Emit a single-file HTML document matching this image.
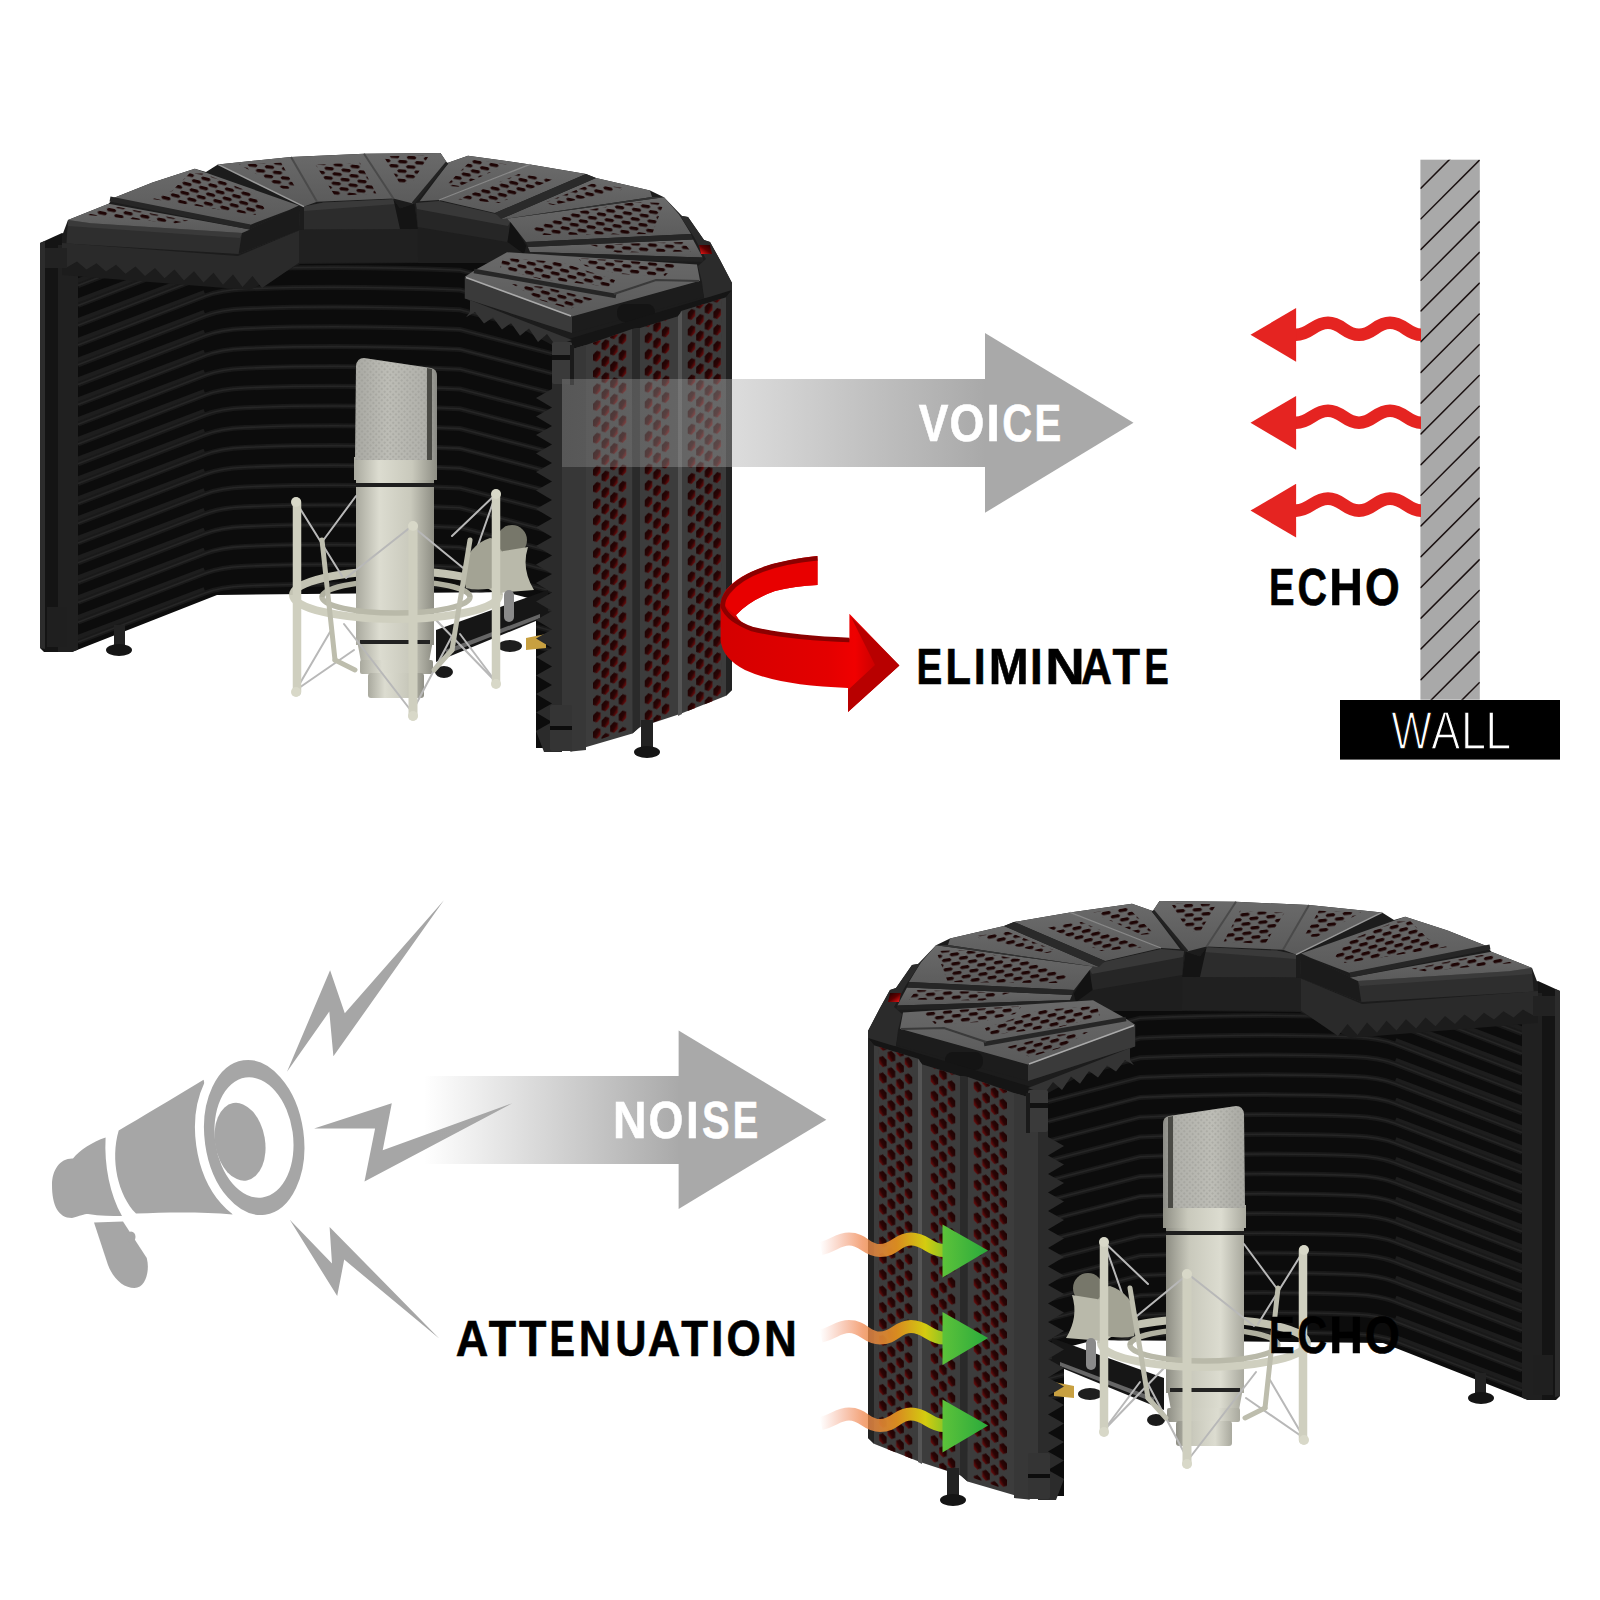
<!DOCTYPE html>
<html><head><meta charset="utf-8"><style>
html,body{margin:0;padding:0;background:#fff;}
svg{display:block;}
text{font-family:"Liberation Sans",sans-serif;}
</style></head><body>
<svg width="1600" height="1600" viewBox="0 0 1600 1600">
<defs>
<linearGradient id="holeg" x1="0" y1="0" x2="1" y2="1">
<stop offset="0" stop-color="#1a0202"/><stop offset="0.55" stop-color="#2a0404"/><stop offset="1" stop-color="#8c1010"/></linearGradient>
<pattern id="perf" width="17.2" height="16.4" patternUnits="userSpaceOnUse" patternTransform="translate(593,352) skewY(-19.5)">
<polygon points="3.8,0 7.6,2.6 7.6,8.4 3.8,11 0,8.4 0,2.6" fill="url(#holeg)"/>
<polygon points="12.4,8.2 16.2,10.8 16.2,16.6 12.4,19.2 8.6,16.6 8.6,10.8" fill="url(#holeg)"/>
<polygon points="12.4,-8.2 16.2,-5.6 16.2,0.2 12.4,2.8 8.6,0.2 8.6,-5.6" fill="url(#holeg)"/>
</pattern>
<pattern id="lidh" width="11" height="9" patternUnits="userSpaceOnUse" patternTransform="rotate(12)">
<ellipse cx="4" cy="3" rx="4.2" ry="2.4" fill="#2b0808"/>
<ellipse cx="9.5" cy="7.5" rx="4.2" ry="2.4" fill="#2b0808"/>
</pattern>
<pattern id="grille" width="4" height="4" patternUnits="userSpaceOnUse" patternTransform="rotate(45)"><rect width="4" height="4" fill="none"/><rect x="0" y="0" width="2" height="2" fill="#8f8f8a" opacity="0.35"/></pattern>
<linearGradient id="micg" x1="0" y1="0" x2="1" y2="0">
<stop offset="0" stop-color="#a9a99e"/><stop offset="0.3" stop-color="#dcdcd0"/><stop offset="0.7" stop-color="#c9c9bc"/><stop offset="1" stop-color="#8e8e84"/></linearGradient>
<linearGradient id="headg" x1="0" y1="0" x2="1" y2="0">
<stop offset="0" stop-color="#a8a8a2"/><stop offset="0.4" stop-color="#bdbdb6"/><stop offset="0.85" stop-color="#b0b0aa"/><stop offset="1" stop-color="#8a8a84"/></linearGradient>
<linearGradient id="voiceg" x1="562" y1="0" x2="985" y2="0" gradientUnits="userSpaceOnUse">
<stop offset="0" stop-color="#a9a9a9" stop-opacity="0.28"/><stop offset="0.42" stop-color="#a9a9a9" stop-opacity="0.42"/><stop offset="1" stop-color="#a9a9a9" stop-opacity="1"/></linearGradient>
<linearGradient id="noiseg" x1="424" y1="0" x2="680" y2="0" gradientUnits="userSpaceOnUse">
<stop offset="0" stop-color="#a9a9a9" stop-opacity="0"/><stop offset="1" stop-color="#a9a9a9" stop-opacity="1"/></linearGradient>
<linearGradient id="greeng" x1="820" y1="0" x2="990" y2="0" gradientUnits="userSpaceOnUse">
<stop offset="0" stop-color="#f08060" stop-opacity="0"/><stop offset="0.25" stop-color="#f08850" stop-opacity="0.75"/><stop offset="0.45" stop-color="#d88a20"/><stop offset="0.62" stop-color="#d4cc10"/><stop offset="0.8" stop-color="#60c030"/><stop offset="1" stop-color="#28aa38"/></linearGradient>
<linearGradient id="redind" x1="1" y1="0" x2="0" y2="1"><stop offset="0" stop-color="#200000"/><stop offset="0.5" stop-color="#600000"/><stop offset="1" stop-color="#ff1a1a"/></linearGradient>
<linearGradient id="ghead" x1="0" y1="0" x2="1" y2="0"><stop offset="0" stop-color="#5cc23a"/><stop offset="1" stop-color="#2aaa3c"/></linearGradient>
<linearGradient id="redfront" x1="720" y1="0" x2="900" y2="0" gradientUnits="userSpaceOnUse">
<stop offset="0" stop-color="#d40000"/><stop offset="0.6" stop-color="#e40000"/><stop offset="0.75" stop-color="#f00000"/><stop offset="1" stop-color="#a00000"/></linearGradient>
<linearGradient id="panelg" x1="0" y1="0" x2="1" y2="0">
<stop offset="0" stop-color="#383838"/><stop offset="1" stop-color="#444444"/></linearGradient>
<linearGradient id="lidtop" x1="0" y1="0" x2="0" y2="1">
<stop offset="0" stop-color="#6a6a6a"/><stop offset="1" stop-color="#5a5a5a"/></linearGradient>
<clipPath id="foamclip"><polygon points="58.0,245.0 560.0,245.0 560.0,748.0 536.0,748.0 536.0,600.0 505.0,592.0 217.0,595.0 72.0,652.0 58.0,652.0"/></clipPath>
<clipPath id="lc0"><polygon points="103.8,207.0 118.4,207.0 188.2,220.8 175.2,223.2 87.5,215.0"/></clipPath>
<pattern id="lp0" width="17" height="9.4" patternUnits="userSpaceOnUse" patternTransform="rotate(11)"><polygon points="0,1.7 1.7,0 8.3,0 10,1.7 8.3,3.4 1.7,3.4" fill="#1e0505"/><polygon points="8.5,6.4 10.2,4.7 16.8,4.7 18.5,6.4 16.8,8.1 10.2,8.1" fill="#1e0505"/><polygon points="-8.5,6.4 -6.8,4.7 -0.2,4.7 1.5,6.4 -0.2,8.1 -6.8,8.1" fill="#1e0505"/></pattern>
<clipPath id="lc1"><polygon points="189.9,172.9 204.5,173.7 254.9,194.0 264.6,208.6 254.9,215.0 152.5,198.9 172.0,190.8"/></clipPath>
<pattern id="lp1" width="17" height="9.4" patternUnits="userSpaceOnUse" patternTransform="rotate(14)"><polygon points="0,1.7 1.7,0 8.3,0 10,1.7 8.3,3.4 1.7,3.4" fill="#1e0505"/><polygon points="8.5,6.4 10.2,4.7 16.8,4.7 18.5,6.4 16.8,8.1 10.2,8.1" fill="#1e0505"/><polygon points="-8.5,6.4 -6.8,4.7 -0.2,4.7 1.5,6.4 -0.2,8.1 -6.8,8.1" fill="#1e0505"/></pattern>
<clipPath id="lc2"><polygon points="239.0,164.4 281.2,162.8 296.0,188.8 283.0,188.8"/></clipPath>
<pattern id="lp2" width="17" height="9.4" patternUnits="userSpaceOnUse" patternTransform="rotate(6)"><polygon points="0,1.7 1.7,0 8.3,0 10,1.7 8.3,3.4 1.7,3.4" fill="#1e0505"/><polygon points="8.5,6.4 10.2,4.7 16.8,4.7 18.5,6.4 16.8,8.1 10.2,8.1" fill="#1e0505"/><polygon points="-8.5,6.4 -6.8,4.7 -0.2,4.7 1.5,6.4 -0.2,8.1 -6.8,8.1" fill="#1e0505"/></pattern>
<clipPath id="lc3"><polygon points="315.4,164.4 360.0,162.8 376.3,193.6 334.9,196.0"/></clipPath>
<pattern id="lp3" width="17" height="9.4" patternUnits="userSpaceOnUse" patternTransform="rotate(6)"><polygon points="0,1.7 1.7,0 8.3,0 10,1.7 8.3,3.4 1.7,3.4" fill="#1e0505"/><polygon points="8.5,6.4 10.2,4.7 16.8,4.7 18.5,6.4 16.8,8.1 10.2,8.1" fill="#1e0505"/><polygon points="-8.5,6.4 -6.8,4.7 -0.2,4.7 1.5,6.4 -0.2,8.1 -6.8,8.1" fill="#1e0505"/></pattern>
<clipPath id="lc4"><polygon points="383.6,156.2 429.0,155.4 411.2,183.9 400.0,183.9"/></clipPath>
<pattern id="lp4" width="17" height="9.4" patternUnits="userSpaceOnUse" patternTransform="rotate(4)"><polygon points="0,1.7 1.7,0 8.3,0 10,1.7 8.3,3.4 1.7,3.4" fill="#1e0505"/><polygon points="8.5,6.4 10.2,4.7 16.8,4.7 18.5,6.4 16.8,8.1 10.2,8.1" fill="#1e0505"/><polygon points="-8.5,6.4 -6.8,4.7 -0.2,4.7 1.5,6.4 -0.2,8.1 -6.8,8.1" fill="#1e0505"/></pattern>
<clipPath id="lc5"><polygon points="472.0,159.5 507.8,164.4 458.4,186.7 445.8,185.7"/></clipPath>
<pattern id="lp5" width="17" height="9.4" patternUnits="userSpaceOnUse" patternTransform="rotate(10)"><polygon points="0,1.7 1.7,0 8.3,0 10,1.7 8.3,3.4 1.7,3.4" fill="#1e0505"/><polygon points="8.5,6.4 10.2,4.7 16.8,4.7 18.5,6.4 16.8,8.1 10.2,8.1" fill="#1e0505"/><polygon points="-8.5,6.4 -6.8,4.7 -0.2,4.7 1.5,6.4 -0.2,8.1 -6.8,8.1" fill="#1e0505"/></pattern>
<clipPath id="lc6"><polygon points="518.5,174.0 553.4,179.0 499.0,203.0 458.4,199.3"/></clipPath>
<pattern id="lp6" width="17" height="9.4" patternUnits="userSpaceOnUse" patternTransform="rotate(12)"><polygon points="0,1.7 1.7,0 8.3,0 10,1.7 8.3,3.4 1.7,3.4" fill="#1e0505"/><polygon points="8.5,6.4 10.2,4.7 16.8,4.7 18.5,6.4 16.8,8.1 10.2,8.1" fill="#1e0505"/><polygon points="-8.5,6.4 -6.8,4.7 -0.2,4.7 1.5,6.4 -0.2,8.1 -6.8,8.1" fill="#1e0505"/></pattern>
<clipPath id="lc7"><polygon points="592.0,183.8 628.0,188.6 553.4,205.0 543.7,203.0"/></clipPath>
<pattern id="lp7" width="17" height="9.4" patternUnits="userSpaceOnUse" patternTransform="rotate(12)"><polygon points="0,1.7 1.7,0 8.3,0 10,1.7 8.3,3.4 1.7,3.4" fill="#1e0505"/><polygon points="8.5,6.4 10.2,4.7 16.8,4.7 18.5,6.4 16.8,8.1 10.2,8.1" fill="#1e0505"/><polygon points="-8.5,6.4 -6.8,4.7 -0.2,4.7 1.5,6.4 -0.2,8.1 -6.8,8.1" fill="#1e0505"/></pattern>
<clipPath id="lc8"><polygon points="634.8,202.0 663.8,203.0 652.2,234.0 543.7,235.0 530.0,229.3 570.8,212.8"/></clipPath>
<pattern id="lp8" width="17" height="9.4" patternUnits="userSpaceOnUse" patternTransform="rotate(8)"><polygon points="0,1.7 1.7,0 8.3,0 10,1.7 8.3,3.4 1.7,3.4" fill="#1e0505"/><polygon points="8.5,6.4 10.2,4.7 16.8,4.7 18.5,6.4 16.8,8.1 10.2,8.1" fill="#1e0505"/><polygon points="-8.5,6.4 -6.8,4.7 -0.2,4.7 1.5,6.4 -0.2,8.1 -6.8,8.1" fill="#1e0505"/></pattern>
<clipPath id="lc9"><polygon points="590.0,244.8 683.2,241.9 691.0,251.6 617.3,252.5"/></clipPath>
<pattern id="lp9" width="17" height="9.4" patternUnits="userSpaceOnUse" patternTransform="rotate(4)"><polygon points="0,1.7 1.7,0 8.3,0 10,1.7 8.3,3.4 1.7,3.4" fill="#1e0505"/><polygon points="8.5,6.4 10.2,4.7 16.8,4.7 18.5,6.4 16.8,8.1 10.2,8.1" fill="#1e0505"/><polygon points="-8.5,6.4 -6.8,4.7 -0.2,4.7 1.5,6.4 -0.2,8.1 -6.8,8.1" fill="#1e0505"/></pattern>
<clipPath id="lc10"><polygon points="503.0,258.0 560.0,262.0 615.0,280.0 612.0,287.0 540.0,279.0 500.0,268.0"/></clipPath>
<pattern id="lp10" width="17" height="9.4" patternUnits="userSpaceOnUse" patternTransform="rotate(12)"><polygon points="0,1.7 1.7,0 8.3,0 10,1.7 8.3,3.4 1.7,3.4" fill="#1e0505"/><polygon points="8.5,6.4 10.2,4.7 16.8,4.7 18.5,6.4 16.8,8.1 10.2,8.1" fill="#1e0505"/><polygon points="-8.5,6.4 -6.8,4.7 -0.2,4.7 1.5,6.4 -0.2,8.1 -6.8,8.1" fill="#1e0505"/></pattern>
<clipPath id="lc11"><polygon points="578.0,258.0 677.0,264.0 665.0,276.0 620.0,274.0 585.0,266.0"/></clipPath>
<pattern id="lp11" width="17" height="9.4" patternUnits="userSpaceOnUse" patternTransform="rotate(6)"><polygon points="0,1.7 1.7,0 8.3,0 10,1.7 8.3,3.4 1.7,3.4" fill="#1e0505"/><polygon points="8.5,6.4 10.2,4.7 16.8,4.7 18.5,6.4 16.8,8.1 10.2,8.1" fill="#1e0505"/><polygon points="-8.5,6.4 -6.8,4.7 -0.2,4.7 1.5,6.4 -0.2,8.1 -6.8,8.1" fill="#1e0505"/></pattern>
<clipPath id="lc12"><polygon points="512.0,284.0 545.0,287.0 593.0,299.0 570.0,309.0 540.0,300.0"/></clipPath>
<pattern id="lp12" width="17" height="9.4" patternUnits="userSpaceOnUse" patternTransform="rotate(14)"><polygon points="0,1.7 1.7,0 8.3,0 10,1.7 8.3,3.4 1.7,3.4" fill="#1e0505"/><polygon points="8.5,6.4 10.2,4.7 16.8,4.7 18.5,6.4 16.8,8.1 10.2,8.1" fill="#1e0505"/><polygon points="-8.5,6.4 -6.8,4.7 -0.2,4.7 1.5,6.4 -0.2,8.1 -6.8,8.1" fill="#1e0505"/></pattern>
<clipPath id="perfclip"><polygon points="592.8,342 626.6,330 626.6,730 592.8,742"/><polygon points="644.4,326 669.8,318 669.8,716 644.4,726"/><polygon points="687.4,308 721.2,296 721.2,700 687.4,712"/></clipPath>
<g id="unit">
<polygon points="40.0,243.0 62.0,233.0 70.0,236.0 70.0,652.0 44.0,652.0 40.0,648.0" fill="#141414" />
<polygon points="40.0,243.0 45.0,241.0 45.0,649.0 40.0,648.0" fill="#2c2c2c" />
<polygon points="58.0,245.0 560.0,245.0 560.0,748.0 536.0,748.0 536.0,600.0 505.0,592.0 217.0,595.0 72.0,652.0 58.0,652.0" fill="#0c0c0c" />
<g clip-path="url(#foamclip)"><path d="M78,243.0 L205,195.0" stroke="#1d1d1d" stroke-width="8" fill="none"/><path d="M78,246.0 L205,197.0 Q221,191.0 245,190.0 Q340,186.0 460,191.0 L552,215.0" fill="none" stroke="#191919" stroke-width="5"/><path d="M78,246.0 L205,197.0 Q221,191.0 245,190.0 Q340,186.0 460,191.0 L552,215.0" fill="none" stroke="#262626" stroke-width="1.6"/><path d="M78,262.8 L205,214.8" stroke="#1d1d1d" stroke-width="8" fill="none"/><path d="M78,265.8 L205,216.8 Q221,210.8 245,209.8 Q340,205.8 460,210.8 L552,234.8" fill="none" stroke="#191919" stroke-width="5"/><path d="M78,265.8 L205,216.8 Q221,210.8 245,209.8 Q340,205.8 460,210.8 L552,234.8" fill="none" stroke="#262626" stroke-width="1.6"/><path d="M78,282.6 L205,234.6" stroke="#1d1d1d" stroke-width="8" fill="none"/><path d="M78,285.6 L205,236.6 Q221,230.6 245,229.6 Q340,225.6 460,230.6 L552,254.6" fill="none" stroke="#191919" stroke-width="5"/><path d="M78,285.6 L205,236.6 Q221,230.6 245,229.6 Q340,225.6 460,230.6 L552,254.6" fill="none" stroke="#262626" stroke-width="1.6"/><path d="M78,302.4 L205,254.4" stroke="#1d1d1d" stroke-width="8" fill="none"/><path d="M78,305.4 L205,256.4 Q221,250.4 245,249.4 Q340,245.4 460,250.4 L552,274.4" fill="none" stroke="#191919" stroke-width="5"/><path d="M78,305.4 L205,256.4 Q221,250.4 245,249.4 Q340,245.4 460,250.4 L552,274.4" fill="none" stroke="#262626" stroke-width="1.6"/><path d="M78,322.2 L205,274.2" stroke="#1d1d1d" stroke-width="8" fill="none"/><path d="M78,325.2 L205,276.2 Q221,270.2 245,269.2 Q340,265.2 460,270.2 L552,294.2" fill="none" stroke="#191919" stroke-width="5"/><path d="M78,325.2 L205,276.2 Q221,270.2 245,269.2 Q340,265.2 460,270.2 L552,294.2" fill="none" stroke="#262626" stroke-width="1.6"/><path d="M78,342.0 L205,294.0" stroke="#1d1d1d" stroke-width="8" fill="none"/><path d="M78,345.0 L205,296.0 Q221,290.0 245,289.0 Q340,285.0 460,290.0 L552,314.0" fill="none" stroke="#191919" stroke-width="5"/><path d="M78,345.0 L205,296.0 Q221,290.0 245,289.0 Q340,285.0 460,290.0 L552,314.0" fill="none" stroke="#262626" stroke-width="1.6"/><path d="M78,361.8 L205,313.8" stroke="#1d1d1d" stroke-width="8" fill="none"/><path d="M78,364.8 L205,315.8 Q221,309.8 245,308.8 Q340,304.8 460,309.8 L552,333.8" fill="none" stroke="#191919" stroke-width="5"/><path d="M78,364.8 L205,315.8 Q221,309.8 245,308.8 Q340,304.8 460,309.8 L552,333.8" fill="none" stroke="#262626" stroke-width="1.6"/><path d="M78,381.6 L205,333.6" stroke="#1d1d1d" stroke-width="8" fill="none"/><path d="M78,384.6 L205,335.6 Q221,329.6 245,328.6 Q340,324.6 460,329.6 L552,353.6" fill="none" stroke="#191919" stroke-width="5"/><path d="M78,384.6 L205,335.6 Q221,329.6 245,328.6 Q340,324.6 460,329.6 L552,353.6" fill="none" stroke="#262626" stroke-width="1.6"/><path d="M78,401.4 L205,353.4" stroke="#1d1d1d" stroke-width="8" fill="none"/><path d="M78,404.4 L205,355.4 Q221,349.4 245,348.4 Q340,344.4 460,349.4 L552,373.4" fill="none" stroke="#191919" stroke-width="5"/><path d="M78,404.4 L205,355.4 Q221,349.4 245,348.4 Q340,344.4 460,349.4 L552,373.4" fill="none" stroke="#262626" stroke-width="1.6"/><path d="M78,421.2 L205,373.2" stroke="#1d1d1d" stroke-width="8" fill="none"/><path d="M78,424.2 L205,375.2 Q221,369.2 245,368.2 Q340,364.2 460,369.2 L552,393.2" fill="none" stroke="#191919" stroke-width="5"/><path d="M78,424.2 L205,375.2 Q221,369.2 245,368.2 Q340,364.2 460,369.2 L552,393.2" fill="none" stroke="#262626" stroke-width="1.6"/><path d="M78,441.0 L205,393.0" stroke="#1d1d1d" stroke-width="8" fill="none"/><path d="M78,444.0 L205,395.0 Q221,389.0 245,388.0 Q340,384.0 460,389.0 L552,413.0" fill="none" stroke="#191919" stroke-width="5"/><path d="M78,444.0 L205,395.0 Q221,389.0 245,388.0 Q340,384.0 460,389.0 L552,413.0" fill="none" stroke="#262626" stroke-width="1.6"/><path d="M78,460.8 L205,412.8" stroke="#1d1d1d" stroke-width="8" fill="none"/><path d="M78,463.8 L205,414.8 Q221,408.8 245,407.8 Q340,403.8 460,408.8 L552,432.8" fill="none" stroke="#191919" stroke-width="5"/><path d="M78,463.8 L205,414.8 Q221,408.8 245,407.8 Q340,403.8 460,408.8 L552,432.8" fill="none" stroke="#262626" stroke-width="1.6"/><path d="M78,480.6 L205,432.6" stroke="#1d1d1d" stroke-width="8" fill="none"/><path d="M78,483.6 L205,434.6 Q221,428.6 245,427.6 Q340,423.6 460,428.6 L552,452.6" fill="none" stroke="#191919" stroke-width="5"/><path d="M78,483.6 L205,434.6 Q221,428.6 245,427.6 Q340,423.6 460,428.6 L552,452.6" fill="none" stroke="#262626" stroke-width="1.6"/><path d="M78,500.4 L205,452.4" stroke="#1d1d1d" stroke-width="8" fill="none"/><path d="M78,503.4 L205,454.4 Q221,448.4 245,447.4 Q340,443.4 460,448.4 L552,472.4" fill="none" stroke="#191919" stroke-width="5"/><path d="M78,503.4 L205,454.4 Q221,448.4 245,447.4 Q340,443.4 460,448.4 L552,472.4" fill="none" stroke="#262626" stroke-width="1.6"/><path d="M78,520.2 L205,472.2" stroke="#1d1d1d" stroke-width="8" fill="none"/><path d="M78,523.2 L205,474.2 Q221,468.2 245,467.2 Q340,463.2 460,468.2 L552,492.2" fill="none" stroke="#191919" stroke-width="5"/><path d="M78,523.2 L205,474.2 Q221,468.2 245,467.2 Q340,463.2 460,468.2 L552,492.2" fill="none" stroke="#262626" stroke-width="1.6"/><path d="M78,540.0 L205,492.0" stroke="#1d1d1d" stroke-width="8" fill="none"/><path d="M78,543.0 L205,494.0 Q221,488.0 245,487.0 Q340,483.0 460,488.0 L552,512.0" fill="none" stroke="#191919" stroke-width="5"/><path d="M78,543.0 L205,494.0 Q221,488.0 245,487.0 Q340,483.0 460,488.0 L552,512.0" fill="none" stroke="#262626" stroke-width="1.6"/><path d="M78,559.8 L205,511.8" stroke="#1d1d1d" stroke-width="8" fill="none"/><path d="M78,562.8 L205,513.8 Q221,507.8 245,506.8 Q340,502.8 460,507.8 L552,531.8" fill="none" stroke="#191919" stroke-width="5"/><path d="M78,562.8 L205,513.8 Q221,507.8 245,506.8 Q340,502.8 460,507.8 L552,531.8" fill="none" stroke="#262626" stroke-width="1.6"/><path d="M78,579.6 L205,531.6" stroke="#1d1d1d" stroke-width="8" fill="none"/><path d="M78,582.6 L205,533.6 Q221,527.6 245,526.6 Q340,522.6 460,527.6 L552,551.6" fill="none" stroke="#191919" stroke-width="5"/><path d="M78,582.6 L205,533.6 Q221,527.6 245,526.6 Q340,522.6 460,527.6 L552,551.6" fill="none" stroke="#262626" stroke-width="1.6"/><path d="M78,599.4 L205,551.4" stroke="#1d1d1d" stroke-width="8" fill="none"/><path d="M78,602.4 L205,553.4 Q221,547.4 245,546.4 Q340,542.4 460,547.4 L552,571.4" fill="none" stroke="#191919" stroke-width="5"/><path d="M78,602.4 L205,553.4 Q221,547.4 245,546.4 Q340,542.4 460,547.4 L552,571.4" fill="none" stroke="#262626" stroke-width="1.6"/><path d="M78,619.2 L205,571.2" stroke="#1d1d1d" stroke-width="8" fill="none"/><path d="M78,622.2 L205,573.2 Q221,567.2 245,566.2 Q340,562.2 460,567.2 L552,591.2" fill="none" stroke="#191919" stroke-width="5"/><path d="M78,622.2 L205,573.2 Q221,567.2 245,566.2 Q340,562.2 460,567.2 L552,591.2" fill="none" stroke="#262626" stroke-width="1.6"/><path d="M78,639.0 L205,591.0" stroke="#1d1d1d" stroke-width="8" fill="none"/><path d="M78,642.0 L205,593.0 Q221,587.0 245,586.0 Q340,582.0 460,587.0 L552,611.0" fill="none" stroke="#191919" stroke-width="5"/><path d="M78,642.0 L205,593.0 Q221,587.0 245,586.0 Q340,582.0 460,587.0 L552,611.0" fill="none" stroke="#262626" stroke-width="1.6"/><path d="M78,658.8 L205,610.8" stroke="#1d1d1d" stroke-width="8" fill="none"/><path d="M78,661.8 L205,612.8 Q221,606.8 245,605.8 Q340,601.8 460,606.8 L552,630.8" fill="none" stroke="#191919" stroke-width="5"/><path d="M78,661.8 L205,612.8 Q221,606.8 245,605.8 Q340,601.8 460,606.8 L552,630.8" fill="none" stroke="#262626" stroke-width="1.6"/><path d="M78,678.6 L205,630.6" stroke="#1d1d1d" stroke-width="8" fill="none"/><path d="M78,681.6 L205,632.6 Q221,626.6 245,625.6 Q340,621.6 460,626.6 L552,650.6" fill="none" stroke="#191919" stroke-width="5"/><path d="M78,681.6 L205,632.6 Q221,626.6 245,625.6 Q340,621.6 460,626.6 L552,650.6" fill="none" stroke="#262626" stroke-width="1.6"/><rect x="58" y="240" width="20" height="420" fill="#202020"/></g>
<polygon points="62.0,236.0 68.0,220.0 108.6,203.8 113.5,198.0 152.5,182.6 194.8,168.8 206.0,172.0 217.9,164.4 291.0,157.0 364.0,153.8 440.5,153.0 447.0,162.8 448.8,162.4 468.0,155.7 530.0,164.4 586.0,174.0 596.0,178.0 650.0,190.5 664.0,197.3 682.0,216.0 688.0,217.0 704.0,240.0 710.0,242.0 720.0,260.0 732.0,283.0 732.0,296.0 727.0,297.0 586.0,345.0 562.0,352.0 552.0,345.0 468.0,300.0 464.8,276.7 510.0,262.0 420.0,263.0 300.0,264.0 250.0,290.0 62.0,275.0" fill="#1c1c1c" />
<polygon points="62.0,243.0 238.0,256.0 300.0,230.0 300.0,262.0 262.0,288.0 252.5,276.0 242.5,287.0 233.0,274.4 223.0,284.8 213.5,272.8 203.5,282.6 194.0,271.2 184.0,280.4 174.5,269.6 164.5,278.2 155.0,268.0 145.0,276.0 135.5,266.4 125.5,273.8 116.0,264.8 106.0,271.6 96.5,263.2 86.5,269.4 77.0,261.6 67.0,267.2 62.0,268.0" fill="#2a2a2a" />
<polygon points="299.0,230.0 418.0,228.0 420.0,262.0 299.0,263.0" fill="#202020" />
<polygon points="68.0,220.0 90.8,223.2 242.0,233.0 289.0,210.0 298.8,205.4 300.0,230.0 238.6,254.0 66.4,243.6" fill="#2e2e2e" />
<polygon points="242.0,233.0 289.0,210.0 298.8,205.4 300.0,230.0 238.6,254.0" fill="#1b1b1b" />
<polygon points="68.0,220.0 90.8,223.2 242.0,233.0 240.0,238.0 68.0,226.0" fill="#3a3a3a" />
<polygon points="304.0,206.6 323.5,202.6 393.4,199.3 400.0,208.2 414.5,203.4 418.0,229.0 304.0,229.4" fill="#2c2c2c" />
<polygon points="304.0,206.6 323.5,202.6 393.4,199.3 396.0,204.0 304.0,211.0" fill="#3a3a3a" />
<polygon points="393.4,199.3 400.0,208.2 414.5,203.4 418.0,229.0 400.0,229.0" fill="#141414" />
<polygon points="417.8,226.0 507.5,241.0 524.0,254.0 520.4,263.0 418.0,263.0" fill="#1e1e1e" />
<polygon points="415.8,203.0 439.0,201.0 495.0,213.8 510.8,220.6 507.5,242.0 417.8,227.0" fill="#262626" />
<polygon points="415.8,203.0 439.0,201.0 495.0,213.8 510.8,220.6 508.0,226.0 417.0,209.0" fill="#383838" />
<polygon points="510.8,220.6 526.2,245.8 524.0,254.0 507.5,242.0" fill="#121212" />
<polygon points="113.5,198.0 152.5,182.6 194.8,168.8 298.8,205.4 289.0,210.0 250.0,224.9" fill="url(#lidtop)" />
<polygon points="68.0,220.0 108.6,203.8 250.0,229.5 242.0,233.0 90.8,223.2" fill="url(#lidtop)" />
<polygon points="217.9,164.4 291.0,157.0 364.0,153.8 440.5,153.0 447.0,162.8 413.0,203.4 393.4,198.5 317.0,201.8 304.0,206.6" fill="url(#lidtop)" />
<polygon points="419.7,201.2 448.8,162.4 468.0,155.7 530.0,164.4 439.0,200.0" fill="url(#lidtop)" />
<polygon points="439.0,200.0 530.0,164.4 586.0,174.0 495.0,213.0" fill="url(#lidtop)" />
<polygon points="596.0,178.0 650.0,190.5 652.0,197.0 507.0,218.6 501.0,219.0" fill="url(#lidtop)" />
<polygon points="507.0,218.6 664.0,197.3 679.3,214.8 691.0,234.0 526.0,242.0 510.8,222.5" fill="url(#lidtop)" />
<polygon points="528.0,247.0 693.0,239.5 702.6,257.4 530.0,252.0" fill="url(#lidtop)" />
<polygon points="586.0,174.0 596.0,178.0 501.0,219.0 495.0,213.0" fill="#2a2a2a" />
<polygon points="526.0,242.0 691.0,234.0 693.0,239.5 528.0,247.0" fill="#262626" />
<polygon points="530.0,252.0 702.6,257.4 704.0,262.0 532.0,258.0" fill="#222" />
<polygon points="652.0,197.0 664.0,197.3 507.0,218.6" fill="#333" />
<polyline points="110,199 250,227" stroke="#262626" stroke-width="5" fill="none"/>
<polyline points="291,157 317,201.75" stroke="#4a4a4a" stroke-width="2" fill="none"/>
<polyline points="364,153.8 393.4,198.5" stroke="#4a4a4a" stroke-width="2" fill="none"/>
<polyline points="217.9,164.4 304,206.6" stroke="#999" stroke-width="1.5" fill="none"/>
<polyline points="447,162.75 413,203.4" stroke="#222" stroke-width="3" fill="none"/>
<polyline points="530,164.4 439,200" stroke="#8a8a8a" stroke-width="1.2" fill="none"/>
<rect x="81.5" y="203" width="112.75" height="24.25" fill="url(#lp0)" clip-path="url(#lc0)"/>
<rect x="146.5" y="168.9" width="124.10000000000002" height="50.099999999999994" fill="url(#lp1)" clip-path="url(#lc1)"/>
<rect x="233" y="158.75" width="69" height="34.0" fill="url(#lp2)" clip-path="url(#lc2)"/>
<rect x="309.4" y="158.75" width="72.90000000000003" height="41.25" fill="url(#lp3)" clip-path="url(#lc3)"/>
<rect x="377.6" y="151.4" width="57.39999999999998" height="36.5" fill="url(#lp4)" clip-path="url(#lc4)"/>
<rect x="439.8" y="155.5" width="74.0" height="35.19999999999999" fill="url(#lp5)" clip-path="url(#lc5)"/>
<rect x="452.4" y="170" width="107.0" height="37" fill="url(#lp6)" clip-path="url(#lc6)"/>
<rect x="537.7" y="179.75" width="96.29999999999995" height="29.25" fill="url(#lp7)" clip-path="url(#lc7)"/>
<rect x="524" y="198" width="145.79999999999995" height="41" fill="url(#lp8)" clip-path="url(#lc8)"/>
<rect x="584" y="237.9" width="113" height="18.599999999999994" fill="url(#lp9)" clip-path="url(#lc9)"/>
<polygon points="679.3,214.8 682.0,216.0 688.0,217.0 704.0,240.0 710.0,242.0 720.0,260.0 732.0,283.0 732.0,296.0 704.0,298.0 702.0,282.0 698.0,266.0 706.0,259.0 694.0,237.0" fill="#2b2b2b" />
<polygon points="699.0,245.0 710.0,245.0 712.0,254.0 701.0,254.0" fill="url(#redind)" />
<polygon points="464.8,276.7 572.0,316.5 700.0,280.8 704.0,297.0 572.0,333.0 464.8,298.6" fill="#1c1c1c" />
<polygon points="464.8,276.7 572.0,316.5 572.0,333.0 464.8,298.6" fill="#3a3a3a" />
<rect x="617" y="304" width="38" height="18" rx="8" fill="#141414"/>
<polygon points="464.8,276.7 476.0,269.4 507.0,252.3 697.0,264.5 700.0,280.8 572.0,316.5" fill="url(#lidtop)" />
<rect x="494" y="254" width="127" height="37" fill="url(#lp10)" clip-path="url(#lc10)"/>
<rect x="572" y="254" width="111" height="26" fill="url(#lp11)" clip-path="url(#lc11)"/>
<rect x="506" y="280" width="93" height="33" fill="url(#lp12)" clip-path="url(#lc12)"/>
<polyline points="474,271 616,296" stroke="#262626" stroke-width="4.5" fill="none"/>
<polyline points="614,294 656,280 699,281" stroke="#3a3a3a" stroke-width="2" fill="none"/>
<polyline points="466,277.5 571,316" stroke="#aaa" stroke-width="1.5" fill="none"/>
<polygon points="562.0,342.0 572.0,338.0 706.0,298.0 732.0,290.0 732.0,312.0 586.0,362.0 562.0,364.0" fill="#151515" />
<polygon points="470.0,300.0 572.0,340.0 556.0,346.0 547.0,334.0 538.0,342.0 529.0,328.5 520.0,335.8 511.0,323.0 502.0,329.6 493.0,317.5 484.0,323.4 475.0,312.0 466.0,317.2 470.0,312.0" fill="#343434" />
<polygon points="436.0,630.0 548.0,590.0 548.0,616.0 436.0,662.0" fill="#161616" />
<polygon points="445.0,650.0 540.0,614.0 540.0,618.0 447.0,654.0" fill="#666" />
<ellipse cx="444" cy="672" rx="9" ry="6" fill="#1a1a1a"/>
<ellipse cx="510" cy="646" rx="12" ry="6" fill="#1e1e1e"/>
<polygon points="526.0,638.0 546.0,634.0 546.0,648.0 526.0,650.0" fill="#c8a040" />
<path d="M293,595 A103,24 0 0,1 499,595" fill="none" stroke="#c3c3b3" stroke-width="8"/>
<path d="M322,597 A74,16 0 0,1 470,597" fill="none" stroke="#b0b0a0" stroke-width="5.5"/>
<rect x="356" y="480" width="78" height="165" fill="url(#micg)"/>
<path d="M357,640 L433,640 L429,662 L361,662 Z" fill="url(#micg)"/>
<rect x="360" y="660" width="73" height="14" rx="2" fill="url(#micg)"/>
<rect x="360" y="640" width="70" height="4" fill="#222"/>
<rect x="368" y="673" width="56" height="25" rx="3" fill="url(#micg)"/>
<rect x="356" y="483" width="78" height="4" fill="#1e1e1e"/>
<rect x="354" y="457" width="83" height="23" fill="url(#micg)"/>
<path d="M356,366 Q357,358 364,358 L431,368 Q437,369 437,376 L437,460 L355,460 Z" fill="url(#headg)"/>
<path d="M356,366 Q357,358 364,358 L431,368 Q437,369 437,376 L437,460 L355,460 Z" fill="url(#grille)"/>
<path d="M427,368 L432,369 L432,460 L427,460 Z" fill="#4a4a45"/>
<line x1="296" y1="502" x2="342" y2="576" stroke="#b8b8b8" stroke-width="2" stroke-linecap="round"/>
<line x1="356" y1="496" x2="322" y2="542" stroke="#b8b8b8" stroke-width="2" stroke-linecap="round"/>
<line x1="412" y1="526" x2="346" y2="578" stroke="#b8b8b8" stroke-width="2" stroke-linecap="round"/>
<line x1="412" y1="526" x2="468" y2="572" stroke="#b8b8b8" stroke-width="2" stroke-linecap="round"/>
<line x1="496" y1="494" x2="452" y2="536" stroke="#b8b8b8" stroke-width="2" stroke-linecap="round"/>
<line x1="496" y1="494" x2="470" y2="568" stroke="#b8b8b8" stroke-width="2" stroke-linecap="round"/>
<line x1="296" y1="690" x2="354" y2="650" stroke="#b8b8b8" stroke-width="2" stroke-linecap="round"/>
<line x1="296" y1="690" x2="330" y2="632" stroke="#b8b8b8" stroke-width="2" stroke-linecap="round"/>
<line x1="412" y1="712" x2="344" y2="624" stroke="#b8b8b8" stroke-width="2" stroke-linecap="round"/>
<line x1="412" y1="712" x2="452" y2="636" stroke="#b8b8b8" stroke-width="2" stroke-linecap="round"/>
<line x1="496" y1="682" x2="460" y2="634" stroke="#b8b8b8" stroke-width="2" stroke-linecap="round"/>
<line x1="496" y1="682" x2="436" y2="620" stroke="#b8b8b8" stroke-width="2" stroke-linecap="round"/>
<path d="M462,572 Q468,545 490,538 L502,540 L502,586 Q480,592 466,588 Z" fill="#a3a394"/>
<circle cx="512" cy="540" r="15" fill="#77776a"/>
<path d="M497,552 L528,547 Q521,569 534,590 L497,593 Z" fill="#b9b9aa"/>
<rect x="504" y="590" width="10" height="32" rx="5" fill="#8a8a8a"/>
<path d="M293,595 A103,24 0 0,0 499,595" fill="none" stroke="#cfcfbf" stroke-width="8"/>
<path d="M322,597 A74,16 0 0,0 470,597" fill="none" stroke="#b9b9a9" stroke-width="5.5"/>
<line x1="297" y1="502" x2="297" y2="692" stroke="#cfcfbf" stroke-width="8.5" stroke-linecap="round"/>
<line x1="496" y1="494" x2="496" y2="684" stroke="#cfcfbf" stroke-width="8.5" stroke-linecap="round"/>
<line x1="413" y1="526" x2="413" y2="716" stroke="#cfcfbf" stroke-width="9" stroke-linecap="round"/>
<line x1="322" y1="540" x2="335" y2="660" stroke="#bdbdad" stroke-width="5" stroke-linecap="round"/>
<line x1="335" y1="660" x2="355" y2="670" stroke="#bdbdad" stroke-width="5" stroke-linecap="round"/>
<line x1="470" y1="540" x2="452" y2="650" stroke="#bdbdad" stroke-width="5" stroke-linecap="round"/>
<line x1="452" y1="650" x2="434" y2="670" stroke="#bdbdad" stroke-width="5" stroke-linecap="round"/>
<circle cx="296" cy="502" r="5" fill="#d8d8c8"/>
<circle cx="496" cy="494" r="5" fill="#d8d8c8"/>
<circle cx="413" cy="526" r="5" fill="#d8d8c8"/>
<circle cx="296" cy="692" r="5" fill="#d8d8c8"/>
<circle cx="496" cy="684" r="5" fill="#d8d8c8"/>
<circle cx="413" cy="716" r="5" fill="#d8d8c8"/>
<polygon points="562.0,345.0 562.0,752.0 544.0,752.0 536.0,731.0 552.0,722.0 536.0,712.5 552.0,703.5 536.0,694.0 552.0,685.0 536.0,675.5 552.0,666.5 536.0,657.0 552.0,648.0 536.0,638.5 552.0,629.5 536.0,620.0 552.0,611.0 536.0,601.5 552.0,592.5 536.0,583.0 552.0,574.0 536.0,564.5 552.0,555.5 536.0,546.0 552.0,537.0 536.0,527.5 552.0,518.5 536.0,509.0 552.0,500.0 536.0,490.5 552.0,481.5 536.0,472.0 552.0,463.0 536.0,453.5 552.0,444.5 536.0,435.0 552.0,426.0 536.0,416.5 552.0,407.5 536.0,398.0 552.0,389.0 552.0,345.0" fill="#2b2b2b" />
<rect x="45" y="248" width="22" height="20" fill="#222"/>
<rect x="47" y="607" width="20" height="40" fill="#1f1f1f"/>
<polygon points="562.0,352.0 586.0,345.0 632.0,329.0 640.0,328.0 679.0,316.0 681.0,311.0 727.0,297.0 732.0,290.0 732.0,690.0 725.5,696.0 680.0,714.0 639.0,727.5 632.5,733.5 571.0,751.5 562.0,748.0" fill="#3c3c3c" />
<polygon points="562.0,352.0 586.0,345.0 586.0,750.0 571.0,751.5 562.0,748.0" fill="#373737" />
<polygon points="562.0,352.0 586.0,345.0 632.0,329.0 640.0,328.0 679.0,316.0 681.0,311.0 727.0,297.0 732.0,290.0 732.0,690.0 725.5,696.0 680.0,714.0 639.0,727.5 632.5,733.5 571.0,751.5 562.0,748.0" fill="url(#perf)" clip-path="url(#perfclip)"/>
<polygon points="632.0,329.0 640.0,328.0 640.0,727.0 632.5,733.5" fill="#2a2a2a" />
<polygon points="678.0,316.0 682.0,311.0 682.0,714.0 678.0,716.0" fill="#555" />
<polygon points="726.0,297.0 732.0,290.0 732.0,690.0 726.0,696.0" fill="#222" />
<rect x="552" y="342" width="20" height="42" rx="2" fill="#3a3a3a"/>
<rect x="552" y="355" width="20" height="5" fill="#111"/>
<rect x="570" y="345" width="4" height="40" fill="#1a1a1a"/>
<rect x="550" y="705" width="22" height="46" rx="2" fill="#343434"/>
<rect x="550" y="726" width="22" height="4" fill="#0c0c0c"/>
<rect x="641" y="720" width="12" height="30" fill="#222"/>
<ellipse cx="647" cy="752" rx="13" ry="6" fill="#151515"/>
<rect x="114" y="625" width="11" height="24" fill="#222"/>
<ellipse cx="119" cy="650" rx="13" ry="6" fill="#151515"/>
</g>
</defs>
<rect width="1600" height="1600" fill="#fff"/>
<use href="#unit"/>
<use href="#unit" transform="translate(1600,748) scale(-1,1)"/>
<rect x="562" y="379" width="424" height="88" fill="url(#voiceg)"/>
<polygon points="985.0,333.0 1133.5,422.8 985.0,512.8" fill="#a9a9a9" />
<text transform="translate(933.75,440.70) scale(0.8546,1)" x="-17.43" y="0" font-family="Liberation Sans" font-weight="bold" font-size="52.03" fill="#fff" stroke="#fff" stroke-width="0.6">V</text><text transform="translate(967.00,440.70) scale(0.8622,1)" x="-20.29" y="0" font-family="Liberation Sans" font-weight="bold" font-size="52.03" fill="#fff" stroke="#fff" stroke-width="0.6">O</text><text transform="translate(993.25,440.70) scale(0.9473,1)" x="-7.28" y="0" font-family="Liberation Sans" font-weight="bold" font-size="52.03" fill="#fff" stroke="#fff" stroke-width="0.6">I</text><text transform="translate(1017.25,440.70) scale(0.7954,1)" x="-18.99" y="0" font-family="Liberation Sans" font-weight="bold" font-size="52.03" fill="#fff" stroke="#fff" stroke-width="0.6">C</text><text transform="translate(1048.50,440.70) scale(0.7688,1)" x="-18.21" y="0" font-family="Liberation Sans" font-weight="bold" font-size="52.03" fill="#fff" stroke="#fff" stroke-width="0.6">E</text>
<path d="M817.5,556 C780,560 742,570 726,590 Q719,600 720.6,612 L720.6,640 Q722,658 745,670 Q780,686 848,688 L848,711.9 L899.4,665.6 L849.4,613.75 L849.4,638.75 Q790,637 752,628 Q740,623 736,615 Q750,600 775,591 Q795,586 817.5,585 Z" fill="url(#redfront)"/>
<path d="M817.5,585 Q795,586 775,591 Q750,600 736,615 Q728,610 724,604 Q735,580 770,570 Q795,562 817.5,560 Z" fill="#e80000"/>
<path d="M817.5,558.3 C780,562 744,572 728,592 Q722,600 723,607 Q728,620 752,629 Q790,638 849.4,640" fill="none" stroke="#8b0000" stroke-width="4.6"/>
<polygon points="851.0,617.0 899.4,665.6 848.0,711.9 848.0,690.0 875.0,665.0" fill="#b80000" />
<text transform="translate(930.00,684.30) scale(0.7659,1)" x="-17.63" y="0" font-family="Liberation Sans" font-weight="bold" font-size="50.36" fill="#000" stroke="#000" stroke-width="0.6">E</text><text transform="translate(959.05,684.30) scale(0.8293,1)" x="-16.37" y="0" font-family="Liberation Sans" font-weight="bold" font-size="50.36" fill="#000" stroke="#000" stroke-width="0.6">L</text><text transform="translate(979.80,684.30) scale(0.8510,1)" x="-7.05" y="0" font-family="Liberation Sans" font-weight="bold" font-size="50.36" fill="#000" stroke="#000" stroke-width="0.6">I</text><text transform="translate(1008.95,684.30) scale(0.9503,1)" x="-21.15" y="0" font-family="Liberation Sans" font-weight="bold" font-size="50.36" fill="#000" stroke="#000" stroke-width="0.6">M</text><text transform="translate(1036.50,684.30) scale(0.9077,1)" x="-7.05" y="0" font-family="Liberation Sans" font-weight="bold" font-size="50.36" fill="#000" stroke="#000" stroke-width="0.6">I</text><text transform="translate(1064.92,684.30) scale(1.0870,1)" x="-18.13" y="0" font-family="Liberation Sans" font-weight="bold" font-size="50.36" fill="#000" stroke="#000" stroke-width="0.6">N</text><text transform="translate(1096.45,684.30) scale(0.8514,1)" x="-18.13" y="0" font-family="Liberation Sans" font-weight="bold" font-size="50.36" fill="#000" stroke="#000" stroke-width="0.6">A</text><text transform="translate(1126.17,684.30) scale(0.8935,1)" x="-15.36" y="0" font-family="Liberation Sans" font-weight="bold" font-size="50.36" fill="#000" stroke="#000" stroke-width="0.6">T</text><text transform="translate(1157.25,684.30) scale(0.7233,1)" x="-17.63" y="0" font-family="Liberation Sans" font-weight="bold" font-size="50.36" fill="#000" stroke="#000" stroke-width="0.6">E</text>
<rect x="1420.4" y="159.7" width="59.4" height="540" fill="#a9a9a9"/>
<clipPath id="wallclip"><rect x="1420.4" y="159.7" width="59.4" height="540"/></clipPath>
<g clip-path="url(#wallclip)"><line x1="1420.4" y1="188.6" x2="1479.8" y2="129.2" stroke="#1a1010" stroke-width="1.5"/><line x1="1420.4" y1="219.3" x2="1479.8" y2="159.9" stroke="#1a1010" stroke-width="1.5"/><line x1="1420.4" y1="250.0" x2="1479.8" y2="190.6" stroke="#1a1010" stroke-width="1.5"/><line x1="1420.4" y1="280.8" x2="1479.8" y2="221.4" stroke="#1a1010" stroke-width="1.5"/><line x1="1420.4" y1="311.5" x2="1479.8" y2="252.1" stroke="#1a1010" stroke-width="1.5"/><line x1="1420.4" y1="342.2" x2="1479.8" y2="282.8" stroke="#1a1010" stroke-width="1.5"/><line x1="1420.4" y1="372.9" x2="1479.8" y2="313.5" stroke="#1a1010" stroke-width="1.5"/><line x1="1420.4" y1="403.6" x2="1479.8" y2="344.2" stroke="#1a1010" stroke-width="1.5"/><line x1="1420.4" y1="434.4" x2="1479.8" y2="375.0" stroke="#1a1010" stroke-width="1.5"/><line x1="1420.4" y1="465.1" x2="1479.8" y2="405.7" stroke="#1a1010" stroke-width="1.5"/><line x1="1420.4" y1="495.8" x2="1479.8" y2="436.4" stroke="#1a1010" stroke-width="1.5"/><line x1="1420.4" y1="526.5" x2="1479.8" y2="467.1" stroke="#1a1010" stroke-width="1.5"/><line x1="1420.4" y1="557.2" x2="1479.8" y2="497.8" stroke="#1a1010" stroke-width="1.5"/><line x1="1420.4" y1="588.0" x2="1479.8" y2="528.6" stroke="#1a1010" stroke-width="1.5"/><line x1="1420.4" y1="618.7" x2="1479.8" y2="559.3" stroke="#1a1010" stroke-width="1.5"/><line x1="1420.4" y1="649.4" x2="1479.8" y2="590.0" stroke="#1a1010" stroke-width="1.5"/><line x1="1420.4" y1="680.1" x2="1479.8" y2="620.7" stroke="#1a1010" stroke-width="1.5"/><line x1="1420.4" y1="710.8" x2="1479.8" y2="651.4" stroke="#1a1010" stroke-width="1.5"/><line x1="1420.4" y1="741.6" x2="1479.8" y2="682.2" stroke="#1a1010" stroke-width="1.5"/></g>
<rect x="1340" y="700" width="220" height="59.6" fill="#000"/>
<text transform="translate(1411.50,748.60) scale(0.8023,1)" x="-25.40" y="0" font-family="Liberation Sans" font-weight="normal" font-size="53.48" fill="#fff" stroke="#000" stroke-width="1.4">W</text><text transform="translate(1445.60,748.60) scale(0.8103,1)" x="-17.65" y="0" font-family="Liberation Sans" font-weight="normal" font-size="53.48" fill="#fff" stroke="#000" stroke-width="1.4">A</text><text transform="translate(1474.50,748.60) scale(0.8415,1)" x="-16.04" y="0" font-family="Liberation Sans" font-weight="normal" font-size="53.48" fill="#fff" stroke="#000" stroke-width="1.4">L</text><text transform="translate(1499.40,748.60) scale(0.8755,1)" x="-16.04" y="0" font-family="Liberation Sans" font-weight="normal" font-size="53.48" fill="#fff" stroke="#000" stroke-width="1.4">L</text>
<text transform="translate(1282.28,604.50) scale(0.7487,1)" x="-17.91" y="0" font-family="Liberation Sans" font-weight="bold" font-size="51.16" fill="#000" stroke="#000" stroke-width="0.6">E</text><text transform="translate(1312.50,604.50) scale(0.7999,1)" x="-18.67" y="0" font-family="Liberation Sans" font-weight="bold" font-size="51.16" fill="#000" stroke="#000" stroke-width="0.6">C</text><text transform="translate(1346.00,604.50) scale(0.9099,1)" x="-18.42" y="0" font-family="Liberation Sans" font-weight="bold" font-size="51.16" fill="#000" stroke="#000" stroke-width="0.6">H</text><text transform="translate(1382.35,604.50) scale(0.8740,1)" x="-19.95" y="0" font-family="Liberation Sans" font-weight="bold" font-size="51.16" fill="#000" stroke="#000" stroke-width="0.6">O</text>
<path d="M1296,334.8 C1310,334.8 1314,322.8 1328,322.8 C1342,322.8 1345,334.8 1359,334.8 C1373,334.8 1376,322.8 1390,322.8 C1404,322.8 1408,334.8 1421,334.8" fill="none" stroke="#e52421" stroke-width="12.6"/>
<polygon points="1250.5,334.8 1296.1,308.0 1296.1,361.8" fill="#e52421" />
<path d="M1296,422.7 C1310,422.7 1314,410.7 1328,410.7 C1342,410.7 1345,422.7 1359,422.7 C1373,422.7 1376,410.7 1390,410.7 C1404,410.7 1408,422.7 1421,422.7" fill="none" stroke="#e52421" stroke-width="12.6"/>
<polygon points="1250.5,422.7 1296.1,395.9 1296.1,449.7" fill="#e52421" />
<path d="M1296,510.6 C1310,510.6 1314,498.6 1328,498.6 C1342,498.6 1345,510.6 1359,510.6 C1373,510.6 1376,498.6 1390,498.6 C1404,498.6 1408,510.6 1421,510.6" fill="none" stroke="#e52421" stroke-width="12.6"/>
<polygon points="1250.5,510.6 1296.1,483.8 1296.1,537.6" fill="#e52421" />
<path d="M203.6,1079.7 C170,1100 140,1118 118.7,1130.5 C110,1160 118,1195 136,1213.6 C170,1212 205,1212 232.5,1214.5 Z" fill="#a6a6a6"/>
<path d="M105.6,1137.5 C92,1142 80,1150 73,1158.5 C60,1158 52,1170 52,1185 C52,1205 58,1218 72,1218 C80,1216 84,1214 88,1214 C100,1216 112,1216 122,1216 C110,1195 104,1165 105.6,1137.5 Z" fill="#a6a6a6"/>
<path d="M94,1222.4 L123,1221.5 L146.75,1258 C150,1270 146,1288 134.5,1288 C124,1288 114,1280 108,1265 Z" fill="#a6a6a6"/>
<ellipse cx="131" cy="1237" rx="4.5" ry="5.5" fill="#a6a6a6"/>
<ellipse cx="254.2" cy="1137.5" rx="54" ry="82.5" fill="#a6a6a6" stroke="#fff" stroke-width="9" transform="rotate(-8 254.2 1137.5)"/>
<ellipse cx="254" cy="1137.5" rx="39" ry="60.5" fill="#fff" transform="rotate(-8 254 1137.5)"/>
<ellipse cx="240" cy="1141.75" rx="25" ry="39.25" fill="#a6a6a6" transform="rotate(-10 240 1141.75)"/>
<polygon points="287.0,1071.8 330.1,970.2 344.8,1013.2 443.9,900.3 333.4,1056.3 329.3,1011.6" fill="#a6a6a6" />
<polygon points="314.1,1128.4 391.8,1103.2 382.7,1150.2 512.4,1103.2 364.5,1181.6 375.1,1128.4" fill="#a6a6a6" />
<polygon points="289.8,1219.8 332.0,1263.6 329.6,1227.0 439.2,1338.4 344.2,1259.6 337.2,1296.1" fill="#a6a6a6" />
<rect x="424" y="1076" width="255" height="88" fill="url(#noiseg)"/>
<polygon points="678.6,1030.5 826.3,1119.7 678.6,1209.0" fill="#a9a9a9" />
<text transform="translate(629.75,1137.70) scale(0.8914,1)" x="-18.73" y="0" font-family="Liberation Sans" font-weight="bold" font-size="52.03" fill="#fff" stroke="#fff" stroke-width="0.6">N</text><text transform="translate(666.00,1137.70) scale(0.8622,1)" x="-20.29" y="0" font-family="Liberation Sans" font-weight="bold" font-size="52.03" fill="#fff" stroke="#fff" stroke-width="0.6">O</text><text transform="translate(692.50,1137.70) scale(0.8786,1)" x="-7.28" y="0" font-family="Liberation Sans" font-weight="bold" font-size="52.03" fill="#fff" stroke="#fff" stroke-width="0.6">I</text><text transform="translate(715.75,1137.70) scale(0.7976,1)" x="-17.17" y="0" font-family="Liberation Sans" font-weight="bold" font-size="52.03" fill="#fff" stroke="#fff" stroke-width="0.6">S</text><text transform="translate(746.00,1137.70) scale(0.7345,1)" x="-18.21" y="0" font-family="Liberation Sans" font-weight="bold" font-size="52.03" fill="#fff" stroke="#fff" stroke-width="0.6">E</text>
<text transform="translate(471.93,1356.20) scale(0.9015,1)" x="-18.00" y="0" font-family="Liberation Sans" font-weight="bold" font-size="50.00" fill="#000" stroke="#000" stroke-width="0.6">A</text><text transform="translate(502.30,1356.20) scale(0.8949,1)" x="-15.25" y="0" font-family="Liberation Sans" font-weight="bold" font-size="50.00" fill="#000" stroke="#000" stroke-width="0.6">T</text><text transform="translate(532.70,1356.20) scale(0.8949,1)" x="-15.25" y="0" font-family="Liberation Sans" font-weight="bold" font-size="50.00" fill="#000" stroke="#000" stroke-width="0.6">T</text><text transform="translate(562.77,1356.20) scale(0.7625,1)" x="-17.50" y="0" font-family="Liberation Sans" font-weight="bold" font-size="50.00" fill="#000" stroke="#000" stroke-width="0.6">E</text><text transform="translate(594.80,1356.20) scale(0.8897,1)" x="-18.00" y="0" font-family="Liberation Sans" font-weight="bold" font-size="50.00" fill="#000" stroke="#000" stroke-width="0.6">N</text><text transform="translate(630.90,1356.20) scale(0.8667,1)" x="-18.00" y="0" font-family="Liberation Sans" font-weight="bold" font-size="50.00" fill="#000" stroke="#000" stroke-width="0.6">U</text><text transform="translate(663.85,1356.20) scale(0.9000,1)" x="-18.00" y="0" font-family="Liberation Sans" font-weight="bold" font-size="50.00" fill="#000" stroke="#000" stroke-width="0.6">A</text><text transform="translate(694.52,1356.20) scale(0.8763,1)" x="-15.25" y="0" font-family="Liberation Sans" font-weight="bold" font-size="50.00" fill="#000" stroke="#000" stroke-width="0.6">T</text><text transform="translate(717.35,1356.20) scale(0.8714,1)" x="-7.00" y="0" font-family="Liberation Sans" font-weight="bold" font-size="50.00" fill="#000" stroke="#000" stroke-width="0.6">I</text><text transform="translate(743.75,1356.20) scale(0.8829,1)" x="-19.50" y="0" font-family="Liberation Sans" font-weight="bold" font-size="50.00" fill="#000" stroke="#000" stroke-width="0.6">O</text><text transform="translate(780.30,1356.20) scale(0.9103,1)" x="-18.00" y="0" font-family="Liberation Sans" font-weight="bold" font-size="50.00" fill="#000" stroke="#000" stroke-width="0.6">N</text>
<text transform="translate(1282.28,1352.50) scale(0.7487,1)" x="-17.91" y="0" font-family="Liberation Sans" font-weight="bold" font-size="51.16" fill="#000" stroke="#000" stroke-width="0.6">E</text><text transform="translate(1312.50,1352.50) scale(0.7999,1)" x="-18.67" y="0" font-family="Liberation Sans" font-weight="bold" font-size="51.16" fill="#000" stroke="#000" stroke-width="0.6">C</text><text transform="translate(1346.00,1352.50) scale(0.9099,1)" x="-18.42" y="0" font-family="Liberation Sans" font-weight="bold" font-size="51.16" fill="#000" stroke="#000" stroke-width="0.6">H</text><text transform="translate(1382.35,1352.50) scale(0.8740,1)" x="-19.95" y="0" font-family="Liberation Sans" font-weight="bold" font-size="51.16" fill="#000" stroke="#000" stroke-width="0.6">O</text>
<path d="M821,1248.6 C834,1245.6 838,1239.1 849,1239.1 C864,1239.1 866,1250.6 880,1250.6 C895,1250.6 897,1239.1 911,1239.1 C926,1239.1 930,1250.6 944,1250.6" fill="none" stroke="url(#greeng)" stroke-width="13"/>
<polygon points="942.5,1224.4 988.1,1250.6 942.5,1277.5" fill="url(#ghead)" />
<path d="M821,1336.1 C834,1333.1 838,1326.6 849,1326.6 C864,1326.6 866,1338.1 880,1338.1 C895,1338.1 897,1326.6 911,1326.6 C926,1326.6 930,1338.1 944,1338.1" fill="none" stroke="url(#greeng)" stroke-width="13"/>
<polygon points="942.5,1311.9 988.1,1338.1 942.5,1365.0" fill="url(#ghead)" />
<path d="M821,1423.6 C834,1420.6 838,1414.1 849,1414.1 C864,1414.1 866,1425.6 880,1425.6 C895,1425.6 897,1414.1 911,1414.1 C926,1414.1 930,1425.6 944,1425.6" fill="none" stroke="url(#greeng)" stroke-width="13"/>
<polygon points="942.5,1399.4 988.1,1425.6 942.5,1452.5" fill="url(#ghead)" />
</svg>
</body></html>
